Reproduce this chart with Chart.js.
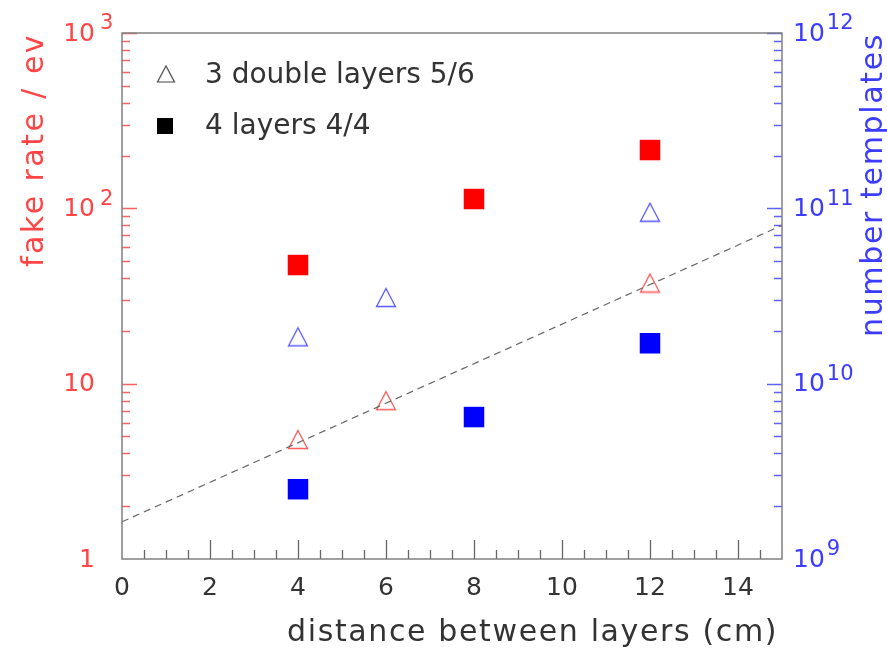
<!DOCTYPE html>
<html>
<head>
<meta charset="utf-8">
<script src="https://cdn.jsdelivr.net/npm/chart.js@4"></script>
<style>
  html, body { margin: 0; padding: 0; background: #fff; }
  #wrap { width: 887px; height: 649px; }
</style>
</head>
<body>
<div id="wrap"><canvas id="grafica" width="887" height="649"></canvas></div>
<script>
// distances (cm)
const distances3 = [4, 6, 12];
const distances4 = [4, 8, 12];

// fake rate / ev (left axis)
const fakeRate3 = [4.8, 8.0, 37.5];
const fakeRate4 = [47.5, 113, 215];

// number of templates (right axis)
const templates3 = [1.85e10, 3.1e10, 9.5e10];
const templates4 = [2.5e9, 6.45e9, 1.7e10];

// dashed fit line
const fitX = [0, 15];
const fitY = [1.63, 80];

// tick labels
const xTickValues = [0, 2, 4, 6, 8, 10, 12, 14];
const leftTickValues = [1, 10, 100, 1000];
const rightTickValues = [1e9, 1e10, 1e11, 1e12];

const legendLabels = ["3 double layers 5/6", "4 layers 4/4"];

const RED = '#ff0000';
const BLUE = '#0000ff';
const RED_TXT = '#ff4545';
const BLUE_TXT = '#3c3cff';
const FONT = '"DejaVu Sans", sans-serif';

function triangleImage(color, w, h, lw) {
    const c = document.createElement('canvas');
    c.width = w; c.height = h;
    const g = c.getContext('2d');
    g.strokeStyle = color;
    g.lineWidth = lw;
    g.beginPath();
    g.moveTo(w / 2, 1.5);
    g.lineTo(w - 1.5, h - 1.5);
    g.lineTo(1.5, h - 1.5);
    g.closePath();
    g.stroke();
    return c;
}

const triRed = triangleImage('rgba(255,70,70,0.9)', 22, 21, 1.3);
const triBlue = triangleImage('rgba(70,70,255,0.9)', 22, 21, 1.3);
const triBlack = triangleImage('#444', 20, 19, 1.2);

function pts(xs, ys) {
    return xs.map((x, i) => ({ x: x, y: ys[i] }));
}

// text squeezed/stretched to a given width
function fitText(ctx, txt, x, y, width) {
    ctx.letterSpacing = '0px';
    const w = ctx.measureText(txt).width;
    const sp = (width - w) / txt.length;
    ctx.letterSpacing = sp.toFixed(2) + 'px';
    ctx.fillText(txt, x, y);
    ctx.letterSpacing = '0px';
}

const dibujarEjes = {
    id: 'dibujarEjes',
    beforeDatasetsDraw(chart) {
        const ctx = chart.ctx;
        const a = chart.chartArea;
        const xs = chart.scales.x, yl = chart.scales.y, yr = chart.scales.y2;
        ctx.save();
        // x ticks
        ctx.strokeStyle = '#666';
        ctx.lineWidth = 1.3;
        ctx.beginPath();
        for (let v = 0.5; v < 15; v += 0.5) {
            const px = Math.round(xs.getPixelForValue(v)) + 0.5;
            const len = (v % 2 === 0) ? 19 : 9;
            ctx.moveTo(px, a.bottom);
            ctx.lineTo(px, a.bottom - len);
        }
        ctx.stroke();
        // left ticks
        ctx.strokeStyle = 'rgba(255,80,80,0.9)';
        ctx.beginPath();
        for (let e = 0; e < 3; e++) {
            for (let m = 1; m <= 9; m++) {
                const v = m * Math.pow(10, e);
                if (v === 1) continue;
                const py = Math.round(yl.getPixelForValue(v)) + 0.5;
                const len = m === 1 ? 15 : 8;
                ctx.moveTo(a.left, py);
                ctx.lineTo(a.left + len, py);
            }
        }
        ctx.moveTo(a.left, a.top + 0.5);
        ctx.lineTo(a.left + 15, a.top + 0.5);
        ctx.stroke();
        // right ticks
        ctx.strokeStyle = 'rgba(80,80,255,0.9)';
        ctx.beginPath();
        for (let e = 9; e < 12; e++) {
            for (let m = 1; m <= 9; m++) {
                const v = m * Math.pow(10, e);
                if (v === 1e9) continue;
                const py = Math.round(yr.getPixelForValue(v)) + 0.5;
                const len = m === 1 ? 15 : 8;
                ctx.moveTo(a.right, py);
                ctx.lineTo(a.right - len, py);
            }
        }
        ctx.moveTo(a.right, a.top + 0.5);
        ctx.lineTo(a.right - 15, a.top + 0.5);
        ctx.stroke();
        // frame
        ctx.strokeStyle = '#808080';
        ctx.lineWidth = 1.5;
        ctx.strokeRect(a.left, a.top, a.right - a.left, a.bottom - a.top);
        ctx.restore();
    },
    afterDraw(chart) {
        const ctx = chart.ctx;
        const a = chart.chartArea;
        const xs = chart.scales.x, yl = chart.scales.y, yr = chart.scales.y2;
        ctx.save();
        // x tick labels
        ctx.fillStyle = '#333';
        ctx.font = '25px ' + FONT;
        ctx.textAlign = 'center';
        ctx.textBaseline = 'middle';
        xTickValues.forEach(v => {
            ctx.fillText(String(v), xs.getPixelForValue(v), a.bottom + 29);
        });
        // left tick labels
        ctx.fillStyle = RED_TXT;
        leftTickValues.forEach(v => {
            const py = yl.getPixelForValue(v);
            const exp = Math.round(Math.log10(v));
            ctx.font = '25px ' + FONT;
            ctx.textAlign = 'right';
            if (exp < 2) {
                ctx.fillText(String(v), a.left - 27, py + 1);
            } else {
                ctx.fillText('10', a.left - 27, py + 1);
                ctx.font = '21px ' + FONT;
                ctx.textAlign = 'left';
                ctx.fillText(String(exp), a.left - 22, py - 9);
            }
        });
        // right tick labels
        ctx.fillStyle = BLUE_TXT;
        rightTickValues.forEach(v => {
            const py = yr.getPixelForValue(v);
            const exp = Math.round(Math.log10(v));
            ctx.font = '25px ' + FONT;
            ctx.textAlign = 'left';
            ctx.fillText('10', a.right + 11, py + 1);
            const w = ctx.measureText('10').width;
            ctx.font = '21px ' + FONT;
            ctx.fillText(String(exp), a.right + 11 + w + 2, py - 9);
        });
        // axis titles
        ctx.textBaseline = 'alphabetic';
        ctx.font = '30px ' + FONT;
        ctx.fillStyle = '#333';
        ctx.textAlign = 'left';
        fitText(ctx, 'distance between layers (cm)', 287, 641, 491);

        ctx.fillStyle = RED_TXT;
        ctx.save();
        ctx.translate(43, a.top);
        ctx.rotate(-Math.PI / 2);
        ctx.textAlign = 'left';
        ctx.font = '30px ' + FONT;
        ctx.translate(-234, 0);
        fitText(ctx, 'fake rate / ev', 0, 0, 234);
        ctx.restore();

        ctx.fillStyle = BLUE_TXT;
        ctx.save();
        ctx.translate(882, a.top);
        ctx.rotate(-Math.PI / 2);
        ctx.textAlign = 'left';
        ctx.font = '30px ' + FONT;
        ctx.translate(-304, 0);
        fitText(ctx, 'number templates', 0, 0, 304);
        ctx.restore();

        // legend
        ctx.drawImage(triBlack, 166 - triBlack.width / 2, 74 - triBlack.height / 2);
        ctx.fillStyle = '#000';
        ctx.fillRect(157, 118, 16, 16);
        ctx.fillStyle = '#333';
        ctx.font = '28px ' + FONT;
        ctx.textAlign = 'left';
        ctx.fillText(legendLabels[0], 205, 83);
        ctx.fillText(legendLabels[1], 205, 134);
        ctx.restore();
    }
};

new Chart(document.querySelector('#grafica'), {
    type: 'scatter',
    data: {
        datasets: [
            {
                label: 'fit',
                data: pts(fitX, fitY),
                yAxisID: 'y',
                showLine: true,
                pointRadius: 0,
                borderColor: '#666',
                borderWidth: 1.2,
                borderDash: [7, 5],
                fill: false,
            },
            {
                label: 'fake rate 3 double layers',
                data: pts(distances3, fakeRate3),
                yAxisID: 'y',
                pointStyle: triRed,
                pointRadius: 10,
            },
            {
                label: 'fake rate 4 layers',
                data: pts(distances4, fakeRate4),
                yAxisID: 'y',
                pointStyle: 'rect',
                pointRadius: 14.5,
                backgroundColor: RED,
                borderColor: RED,
                borderWidth: 0,
            },
            {
                label: 'templates 3 double layers',
                data: pts(distances3, templates3),
                yAxisID: 'y2',
                pointStyle: triBlue,
                pointRadius: 10,
            },
            {
                label: 'templates 4 layers',
                data: pts(distances4, templates4),
                yAxisID: 'y2',
                pointStyle: 'rect',
                pointRadius: 14.5,
                backgroundColor: BLUE,
                borderColor: BLUE,
                borderWidth: 0,
            },
        ]
    },
    options: {
        responsive: false,
        devicePixelRatio: 1,
        animation: false,
        layout: { padding: { left: 122, right: 105, top: 33, bottom: 90 } },
        plugins: { legend: { display: false }, tooltip: { enabled: false } },
        scales: {
            x: { type: 'linear', min: 0, max: 15, display: false },
            y: { type: 'logarithmic', min: 1, max: 1000, display: false, position: 'left' },
            y2: { type: 'logarithmic', min: 1e9, max: 1e12, display: false, position: 'right' },
        }
    },
    plugins: [dibujarEjes]
});
</script>
</body>
</html>
